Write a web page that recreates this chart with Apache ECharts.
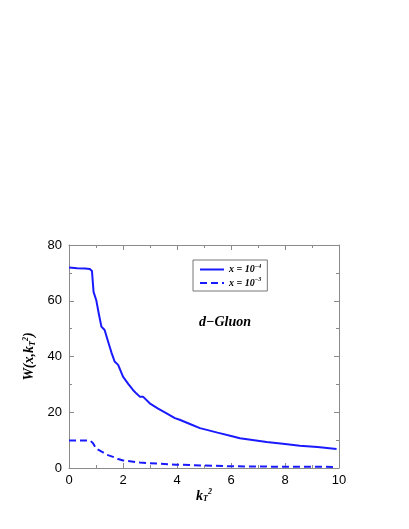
<!DOCTYPE html>
<html><head><meta charset="utf-8">
<script src="https://cdn.jsdelivr.net/npm/echarts@6/dist/echarts.min.js"></script>
<style>html,body{margin:0;padding:0;background:#fff}#c{width:409px;height:529px}</style>
</head><body><div id="c"></div>
<script>
const solidX = [0, 0.3, 0.6, 0.77, 0.85, 0.91, 1.01, 1.1, 1.2, 1.32, 1.45, 1.57, 1.69, 1.82, 2.0, 2.2, 2.37, 2.5, 2.62, 2.74, 2.99, 3.3, 3.6, 3.92, 4.1, 4.5, 4.85, 5.5, 6.08, 6.33, 7.32, 8.0, 8.55, 9.2, 9.91];
const solidY = [71.9, 71.7, 71.6, 71.4, 70.7, 63.2, 60.2, 55.5, 50.7, 49.5, 45.3, 41.5, 38.2, 37.0, 32.8, 30.1, 28.0, 26.7, 25.6, 25.6, 23.2, 21.3, 19.7, 17.9, 17.3, 15.7, 14.3, 12.7, 11.3, 10.7, 9.3, 8.6, 8.0, 7.5, 6.8];
const dashX = [0, 0.4, 0.79, 0.89, 1.01, 1.26, 1.38, 1.69, 1.82, 2.0, 2.62, 2.87, 3.98, 5.0, 6.08, 8.0, 9.91];
const dashY = [9.9, 9.9, 9.8, 8.9, 6.9, 5.6, 4.8, 3.8, 3.2, 2.7, 2.0, 1.8, 1.2, 0.9, 0.6, 0.45, 0.4];
const xTicks = [0, 2, 4, 6, 8, 10];
const yTicks = [0, 20, 40, 60, 80];
const seriesNames = ['x = 10^-4', 'x = 10^-3'];

const pair = (xs, ys) => xs.map((x, i) => [x, ys[i]]);
const serif = 'Liberation Serif';
const sans = 'Liberation Sans';
const frame = '#8a8a8a';

const chart = echarts.init(document.getElementById('c'), null, {renderer: 'canvas'});
const baseAxis = {
  axisLine: {show: true, onZero: false, lineStyle: {color: frame, width: 1}},
  axisTick: {show: true, inside: true, length: 5, lineStyle: {color: frame}},
  minorTick: {show: true, splitNumber: 2, length: 3, lineStyle: {color: frame}},
  splitLine: {show: false}
};
chart.setOption({
  animation: false,
  grid: {left: 69, right: 70, top: 245, bottom: 61},
  title: {
    text: 'd−Gluon', left: 194, top: 310,
    textStyle: {fontFamily: serif, fontStyle: 'italic', fontWeight: 'bold', fontSize: 14, color: '#000'}
  },
  legend: {
    left: 193, top: 260, orient: 'vertical',
    itemWidth: 24, itemHeight: 10, itemGap: 2,
    padding: [3, 6, 3, 6],
    borderColor: '#777', borderWidth: 1,
    itemStyle: {color: 'rgba(0,0,0,0)', borderWidth: 0},
    data: seriesNames,
    formatter: n => {
      const p = n.split('^');
      return '{a|' + p[0] + '}{s|' + p[1].replace('-', '−') + '}';
    },
    textStyle: {
      rich: {
        a: {fontFamily: serif, fontStyle: 'italic', fontWeight: 'bold', fontSize: 10, color: '#000'},
        s: {fontFamily: serif, fontStyle: 'italic', fontWeight: 'bold', fontSize: 6, color: '#000', padding: [0, 0, 7, 0]}
      }
    }
  },
  xAxis: [
    Object.assign({}, baseAxis, {
      type: 'value', min: 0, max: 10, interval: 2, position: 'bottom',
      axisLabel: {fontFamily: sans, fontSize: 13, color: '#000', margin: 6},
      name: '{k|k}{t|T}{s|2}', nameLocation: 'middle', nameGap: 18,
      nameTextStyle: {
        rich: {
          k: {fontFamily: serif, fontStyle: 'italic', fontWeight: 'bold', fontSize: 14, color: '#000'},
          t: {fontFamily: serif, fontStyle: 'italic', fontWeight: 'bold', fontSize: 8, color: '#000', padding: [6, 0, 0, 0]},
          s: {fontFamily: serif, fontStyle: 'italic', fontWeight: 'bold', fontSize: 8, color: '#000', padding: [0, 0, 8, 0]}
        }
      }
    }),
    Object.assign({}, baseAxis, {
      type: 'value', min: 0, max: 10, interval: 2, position: 'top',
      axisLabel: {show: false}
    })
  ],
  yAxis: [
    Object.assign({}, baseAxis, {
      type: 'value', min: 0, max: 80, interval: 20, position: 'left',
      axisLabel: {fontFamily: sans, fontSize: 13, color: '#000', margin: 7},
      name: '{w|W(x,k}{t|T}{s|2}{w|)}', nameLocation: 'middle', nameGap: 21, nameRotate: 90,
      nameTextStyle: {
        rich: {
          w: {fontFamily: serif, fontStyle: 'italic', fontWeight: 'bold', fontSize: 14, color: '#000'},
          t: {fontFamily: serif, fontStyle: 'italic', fontWeight: 'bold', fontSize: 8, color: '#000', padding: [6, 0, 0, 0]},
          s: {fontFamily: serif, fontStyle: 'italic', fontWeight: 'bold', fontSize: 8, color: '#000', padding: [0, 0, 8, 0]}
        }
      }
    }),
    Object.assign({}, baseAxis, {
      type: 'value', min: 0, max: 80, interval: 20, position: 'right',
      axisLabel: {show: false}
    })
  ],
  series: [
    {name: seriesNames[0], type: 'line', data: pair(solidX, solidY), symbol: 'none',
     lineStyle: {color: '#1a1aff', width: 2}, itemStyle: {color: '#1a1aff'}},
    {name: seriesNames[1], type: 'line', data: pair(dashX, dashY), symbol: 'none',
     lineStyle: {color: '#1a1aff', width: 2, type: [7, 4]}, itemStyle: {color: '#1a1aff'}}
  ]
});
</script></body></html>
